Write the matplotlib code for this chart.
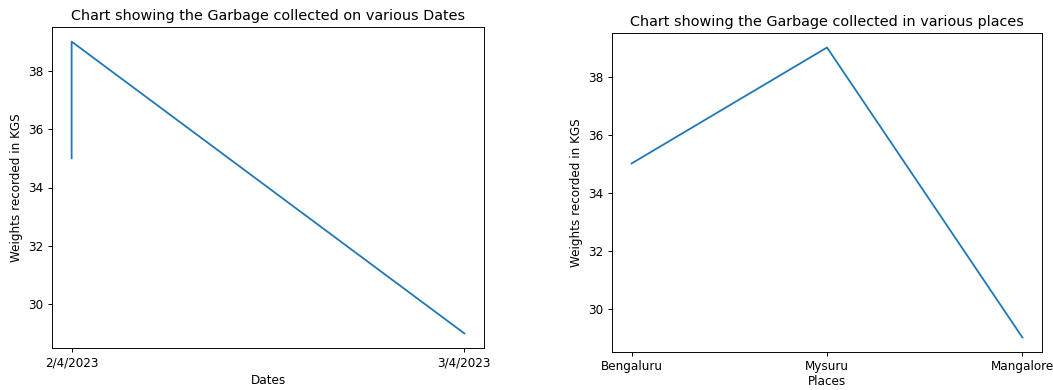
import matplotlib
matplotlib.use("Agg")
import matplotlib.pyplot as plt

DATES = ["2/4/2023", "2/4/2023", "3/4/2023"]
DATE_WEIGHTS = [35, 39, 29]

PLACES = ["Bengaluru", "Mysuru", "Mangalore"]
PLACE_WEIGHTS = [35, 39, 29]

DPI = 86


def plot_dates(ax):
    ax.plot(DATES, DATE_WEIGHTS)
    ax.set_title("Chart showing the Garbage collected on various Dates")
    ax.set_xlabel("Dates")
    ax.set_ylabel("Weights recorded in KGS")


def plot_places(ax):
    ax.plot(PLACES, PLACE_WEIGHTS)
    ax.set_title("Chart showing the Garbage collected in various places")
    ax.set_xlabel("Places", labelpad=1)
    ax.set_ylabel("Weights recorded in KGS")


def main():
    fig = plt.figure(figsize=(1053 / DPI, 390 / DPI), dpi=DPI)
    ax1 = fig.add_axes([52 / 1053, 1 - 348 / 390, 432 / 1053, 321 / 390])
    ax2 = fig.add_axes([612 / 1053, 1 - 352 / 390, 430 / 1053, 319 / 390])
    plot_dates(ax1)
    plot_places(ax2)
    fig.savefig("out.png", dpi=DPI)


if __name__ == "__main__":
    main()
